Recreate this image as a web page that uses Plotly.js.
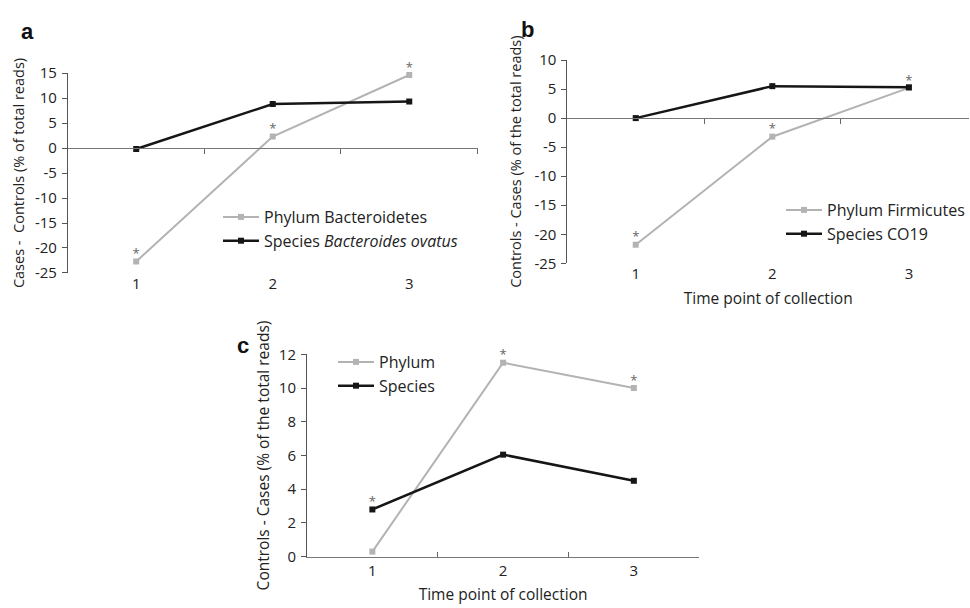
<!DOCTYPE html>
<html><head><meta charset="utf-8">
<script src="https://cdn.plot.ly/plotly-3.0.1.min.js"></script>
<style>html,body{margin:0;padding:0;background:#fff}#chart{width:970px;height:608px}</style>
</head><body><div id="chart"></div>
<script>
// ---- data ----
const timePoints = [1, 2, 3];
const tickLabels = ['1', '2', '3'];

const aPhylumName = 'Phylum Bacteroidetes';
const aSpeciesName = 'Species <i>Bacteroides ovatus</i>';
const aPhylum = [-22.7, 2.3, 14.6];
const aSpecies = [-0.2, 8.8, 9.3];
const aPhylumSig = [true, true, true];
const aSpeciesSig = [false, false, false];
const aYTicks = [-25, -20, -15, -10, -5, 0, 5, 10, 15];

const bPhylumName = 'Phylum Firmicutes';
const bSpeciesName = 'Species CO19';
const bPhylum = [-21.8, -3.2, 5.2];
const bSpecies = [0.0, 5.5, 5.3];
const bPhylumSig = [true, true, true];
const bSpeciesSig = [false, false, false];
const bYTicks = [-25, -20, -15, -10, -5, 0, 5, 10];

const cPhylumName = 'Phylum';
const cSpeciesName = 'Species';
const cPhylum = [0.3, 11.5, 10.0];
const cSpecies = [2.8, 6.05, 4.5];
const cPhylumSig = [false, true, true];
const cSpeciesSig = [true, false, false];
const cYTicks = [0, 2, 4, 6, 8, 10, 12];

// ---- styles ----
const FONT = '"Open Sans", "Noto Sans", sans-serif';
const GRAY = '#b3b3b3', BLACK = '#161616';
const tickFont = {family: FONT, size: 15, color: '#222'};

const aX = [0.0701, 0.4928], aY = [0.5510, 0.8799], aR = [-25, 15];
const bX = [0.5856, 1.0], bY = [0.5669, 0.9013], bR = [-25, 10];
const cX = [0.3168, 0.7216], cY = [0.0844, 0.4173], cR = [0, 12];
const xRa = [0.5, 3.5], xRb = [0.5, 3.44], xRc = [0.5, 3.5];
const boundaries = [1.5, 2.5, 3.5];

function zeroPos(dom, r) { return dom[0] + (0 - r[0]) / (r[1] - r[0]) * (dom[1] - dom[0]); }

function lineTrace(y, name, color, width, xa, ya, legend) {
  return {x: timePoints, y: y, name: name, type: 'scatter', mode: 'lines+markers',
    line: {color: color, width: width}, marker: {symbol: 'square', size: 6, color: color},
    xaxis: xa, yaxis: ya, legend: legend, cliponaxis: false};
}
function sigTrace(series, xa, ya) {
  const xs = [], ys = [];
  series.forEach(s => s.vals.forEach((v, i) => { if (s.sig[i]) { xs.push(timePoints[i]); ys.push(v); } }));
  return {x: xs, y: ys, type: 'scatter', mode: 'text', text: xs.map(() => '*'),
    textposition: 'top center', textfont: {family: FONT, size: 13, color: '#666'},
    showlegend: false, hoverinfo: 'skip', xaxis: xa, yaxis: ya, cliponaxis: false};
}

const traces = [
  lineTrace(aPhylum, aPhylumName, GRAY, 2, 'x', 'y', 'legend'),
  lineTrace(aSpecies, aSpeciesName, BLACK, 2.5, 'x', 'y', 'legend'),
  sigTrace([{vals: aPhylum, sig: aPhylumSig}, {vals: aSpecies, sig: aSpeciesSig}], 'x4', 'y'),
  lineTrace(bPhylum, bPhylumName, GRAY, 2, 'x2', 'y2', 'legend2'),
  lineTrace(bSpecies, bSpeciesName, BLACK, 2.5, 'x2', 'y2', 'legend2'),
  sigTrace([{vals: bPhylum, sig: bPhylumSig}, {vals: bSpecies, sig: bSpeciesSig}], 'x5', 'y2'),
  lineTrace(cPhylum, cPhylumName, GRAY, 2, 'x3', 'y3', 'legend3'),
  lineTrace(cSpecies, cSpeciesName, BLACK, 2.5, 'x3', 'y3', 'legend3'),
  sigTrace([{vals: cPhylum, sig: cPhylumSig}, {vals: cSpecies, sig: cSpeciesSig}], 'x6', 'y3')
];

function catAxis(dom, range, anchor, title, showline) {
  const ax = {domain: dom, range: range, anchor: anchor, tickmode: 'array', tickvals: timePoints,
    ticktext: tickLabels, ticks: '', showline: !!showline, linecolor: '#666', linewidth: 1,
    showgrid: false, zeroline: false, tickfont: tickFont, fixedrange: true};
  if (title) ax.title = {text: title, font: {family: FONT, size: 15.5, color: '#222'}, standoff: 10};
  return ax;
}
function valAxis(dom, range, anchor, ticks, title, standoff, tsize) {
  return {domain: dom, range: range, anchor: anchor, tickmode: 'array', tickvals: ticks,
    ticktext: ticks.map(v => String(v)),
    ticks: 'outside', ticklen: 5, tickcolor: '#555', showline: true, linecolor: '#555', linewidth: 1,
    showgrid: false, zeroline: false, tickfont: tickFont, ticklabelstandoff: 2,
    title: {text: title, font: {family: FONT, size: tsize, color: '#222'}, standoff: standoff}};
}
function boundAxis(over, range, anchor, pos, dir) {
  const ax = {overlaying: over, range: range, tickmode: 'array', tickvals: boundaries, ticks: dir,
    ticklen: 5, tickcolor: '#666', showticklabels: false, showline: true, linecolor: '#777', linewidth: 1,
    showgrid: false, zeroline: false, fixedrange: true};
  if (anchor === 'free') { ax.anchor = 'free'; ax.position = pos; } else { ax.anchor = anchor; }
  return ax;
}
function legendBox(x, y) {
  return {x: x, y: y, xanchor: 'left', yanchor: 'top', bgcolor: 'rgba(0,0,0,0)', borderwidth: 0,
    itemwidth: 36, font: {family: FONT, size: 16, color: '#222'}};
}

const layout = {
  width: 970, height: 608, margin: {l: 0, r: 0, t: 0, b: 0},
  paper_bgcolor: '#fff', plot_bgcolor: 'rgba(0,0,0,0)', showlegend: true,
  xaxis: catAxis(aX, xRa, 'y', null, false),
  yaxis: valAxis(aY, aR, 'x', aYTicks, 'Cases -\u00a0 Controls (% of total reads)', 6, 14.5),
  xaxis4: boundAxis('x', xRa, 'free', zeroPos(aY, aR), 'outside'),
  xaxis2: catAxis(bX, xRb, 'y2', 'Time point of collection', false),
  yaxis2: valAxis(bY, bR, 'x2', bYTicks, 'Controls - Cases (% of the total reads)', 9, 14.5),
  xaxis5: boundAxis('x2', xRb, 'free', zeroPos(bY, bR), 'outside'),
  xaxis3: catAxis(cX, xRc, 'y3', 'Time point of collection', true),
  yaxis3: valAxis(cY, cR, 'x3', cYTicks, 'Controls - Cases (% of the total reads)', 5, 15.5),
  xaxis6: boundAxis('x3', xRc, 'y3', null, 'inside'),
  legend: legendBox(218 / 970, 1 - 200 / 608),
  legend2: legendBox(782 / 970, 1 - 193 / 608),
  legend3: legendBox(333 / 970, 1 - 345 / 608),
  annotations: [
    {text: '<b>a</b>', x: 19 / 970, y: 1 - 17 / 608, xref: 'paper', yref: 'paper', showarrow: false,
      font: {family: 'Liberation Sans, Arial', size: 22, color: '#111'}},
    {text: '<b>b</b>', x: 528 / 970, y: 1 - 15 / 608, xref: 'paper', yref: 'paper', showarrow: false,
      font: {family: 'Liberation Sans, Arial', size: 22, color: '#111'}},
    {text: '<b>c</b>', x: 235 / 970, y: 1 - 345 / 608, xref: 'paper', yref: 'paper', showarrow: false,
      font: {family: 'Liberation Sans, Arial', size: 22, color: '#111'}}
  ]
};

Plotly.newPlot('chart', traces, layout, {displayModeBar: false, staticPlot: true});
</script>
</body></html>
